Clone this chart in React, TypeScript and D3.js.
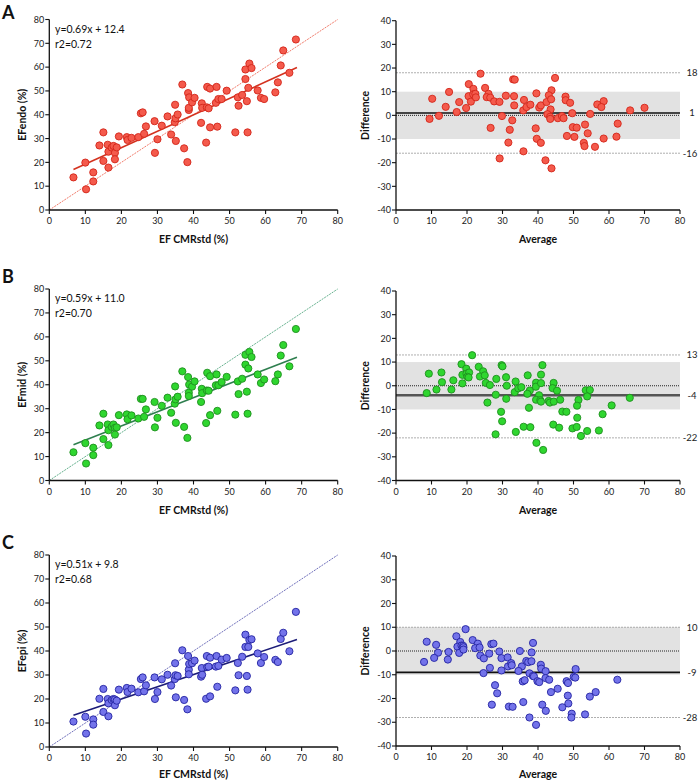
import React from "react";
import * as d3 from "d3";

// EF CMRstd (%) — shared x for all panels
const efStd = [6.7,10,10.2,12.2,12.2,13.9,15,15,16.2,16.4,16.4,17.3,17.8,18.2,18.2,18.7,19.3,21.5,21.7,22.8,24.7,25.4,25.9,26.3,26.8,29.2,29.3,30,31.2,32.8,33.8,34.8,34.9,35,35.1,35.6,36.9,37.4,38.3,38.5,38.7,38.7,38.8,39.6,40.3,42.1,42.3,42.4,43.5,43.7,43.8,44.2,44.6,44.6,46.2,46.4,46.6,46.9,47.8,49.2,51.6,52.3,52.5,53.5,54.4,54.4,54.8,55,55.2,55.5,56.1,57.8,58.7,59.6,62.7,63.4,64.2,64.9,66.6,68.4];
const efEndo = [13.7,19.9,8.7,15.8,12,27.1,32.6,20.6,27.4,24.5,17.8,26.2,26.9,24,21.3,26.3,30.9,30.6,29.4,30.3,30.6,40.6,41,32,35.1,37.3,24,29.7,35.4,39.3,31.7,36.9,44.2,38.5,29,40.1,52.7,25.9,20.1,49.1,42,42.9,47.3,45.2,47.1,36.6,44.8,42.9,28.3,43.1,51.7,42.7,51,34.7,45,51.7,35,46.6,46.6,50.1,32.6,47.3,43.8,48.3,55,59,45.7,32.6,51.3,61.5,59.6,50.2,47.1,46.6,49.4,53.6,60.7,67,57.6,71.6];
const efMid = [11.8,15.6,7.1,13.7,10.6,23,27.9,17.3,23.4,21,14.8,22.4,23.4,22,19.2,22.2,27.3,27.6,25.6,27.2,25.9,34.1,34.1,26.6,29.7,32.8,22.2,26.2,31.2,34.6,28.3,32.1,39.3,33.9,24.1,35,45.6,22.4,17.8,43.2,36.7,35.3,40.1,39.2,41.4,32.8,38.3,36.5,24,37.6,45,37.5,43.6,27.3,39.8,44.3,29.1,39.8,41.1,43.3,27.5,41.4,36.1,42.5,52.5,48.4,37.1,27.9,46.8,53.7,51.6,44.3,40.7,42.2,41.5,44.3,52.2,56.6,47.7,63.3];
const efEpi = [10.6,12.6,5.6,11.5,9.3,20.1,24.2,14.6,20,18.2,12.8,19.6,20,19.8,17.4,19.3,23.9,24.6,22.9,24.3,22.8,28.3,29,23.2,25.7,29,20,22.9,28.2,30.1,25.6,28.3,34.9,29.9,20.7,29.6,40.3,19.6,15.7,37.9,32.2,30.3,34.6,34.9,36,29.3,32.9,30.1,20.1,37.9,33.3,33.5,37.2,21.1,33.5,37.9,25.1,33.8,36.4,37.1,23.6,35,29.9,37.6,46.8,41.7,29.6,23.9,41.7,44.6,44.9,39,35,37.5,36.3,35.4,45,47.6,39.9,56.3];

const panelLetters = ["A", "B", "C"];
const yTitles = ["EFendo (%)", "EFmid (%)", "EFepi (%)"];
const slopes = [0.69, 0.59, 0.51];
const intercepts = [12.4, 11.0, 9.8];
const r2s = ["0.72", "0.70", "0.68"];
const eqLabels = ["y=0.69x + 12.4", "y=0.59x + 11.0", "y=0.51x + 9.8"];
const biases = [1, -4, -9];
const upperLoA = [18, 13, 10];
const lowerLoA = [-16, -22, -28];
const scatterTicks = [0, 10, 20, 30, 40, 50, 60, 70, 80];
const diffTicks = [-40, -30, -20, -10, 0, 10, 20, 30, 40];

const series = [efEndo, efMid, efEpi];
const fills = ["#f45a4c", "#2fd62f", "#7373ea"];
const strokes = ["#d2261a", "#1f8f1f", "#2424a2"];
const regColors = ["#d4321f", "#2f7f4f", "#1c1c78"];
const idColors = ["#ec5a46", "#3c9c70", "#4a4aa8"];
const biasColors = ["#111", "#555", "#111"];
const biasWidths = [1.6, 2.4, 1.6];

const rows = [
  { top: 19.5, bottom: 210, xTitleY: 243, letterY: 19, rTop: 20.7, rBottom: 210 },
  { top: 289, bottom: 480.5, xTitleY: 514, letterY: 283, rTop: 291, rBottom: 480.5 },
  { top: 555, bottom: 747, xTitleY: 778, letterY: 549, rTop: 556, rBottom: 746 },
];

const FONT = "Lato, 'Open Sans', sans-serif";

function ScatterPanel({ i }: { i: number }) {
  const row = rows[i];
  const x = d3.scaleLinear().domain([0, 80]).range([49.3, 337.7]);
  const y = d3.scaleLinear().domain([0, 80]).range([row.bottom, row.top]);
  const ys = series[i];
  const xmin = d3.min(efStd) as number;
  const xmax = 68.7;
  const line = d3.line<number>().x((d) => x(d)).y((d) => y(slopes[i] * d + intercepts[i]));
  const midY = (row.top + row.bottom) / 2;
  return (
    <g>
      <text x={2} y={row.letterY} fontFamily={FONT} fontWeight="bold" fontSize={18} fill="#111">{panelLetters[i]}</text>
      <line x1={x(0)} y1={y(0)} x2={x(80)} y2={y(80)} stroke={idColors[i]} strokeWidth={0.8} strokeDasharray="2,1" />
      <path d={line([xmin, xmax]) || ""} stroke={regColors[i]} strokeWidth={1.6} fill="none" />
      {efStd.map((xv, k) => (
        <circle key={k} cx={x(xv)} cy={y(ys[k])} r={3.6} fill={fills[i]} stroke={strokes[i]} strokeWidth={0.9} />
      ))}
      <line x1={x(0)} y1={row.top} x2={x(0)} y2={row.bottom} stroke="#111" strokeWidth={1.3} />
      <line x1={x(0)} y1={row.bottom} x2={x(80)} y2={row.bottom} stroke="#111" strokeWidth={1.3} />
      {scatterTicks.map((t) => (
        <g key={"y" + t}>
          <line x1={x(0) - 4} x2={x(0)} y1={y(t)} y2={y(t)} stroke="#111" strokeWidth={1.1} />
          <text x={x(0) - 5} y={y(t) + 3.2} textAnchor="end" fontFamily={FONT} fontSize={9} fill="#222">{t}</text>
        </g>
      ))}
      {scatterTicks.map((t) => (
        <g key={"x" + t}>
          <line x1={x(t)} x2={x(t)} y1={row.bottom} y2={row.bottom + 4} stroke="#111" strokeWidth={1.1} />
          <text x={x(t)} y={row.bottom + 14} textAnchor="middle" fontFamily={FONT} fontSize={9} fill="#222">{t}</text>
        </g>
      ))}
      <text x={55} y={row.top + 13} fontFamily={FONT} fontSize={10.5} fill="#111">{eqLabels[i]}</text>
      <text x={55} y={row.top + 28} fontFamily={FONT} fontSize={10.5} fill="#111">{"r2=" + r2s[i]}</text>
      <text x={(x(0) + x(80)) / 2} y={row.xTitleY} textAnchor="middle" fontFamily={FONT} fontWeight="bold" fontSize={10.5} fill="#111">EF CMRstd (%)</text>
      <text transform={`translate(26,${midY}) rotate(-90)`} textAnchor="middle" fontFamily={FONT} fontWeight="bold" fontSize={10.5} fill="#111">{yTitles[i]}</text>
    </g>
  );
}

function BAPanel({ i }: { i: number }) {
  const row = rows[i];
  const x = d3.scaleLinear().domain([0, 80]).range([396, 680]);
  const y = d3.scaleLinear().domain([-40, 40]).range([row.rBottom, row.rTop]);
  const ys = series[i];
  const pts = efStd.map((xv, k) => ({ avg: (xv + ys[k]) / 2, diff: ys[k] - xv }));
  const midY = (row.rTop + row.rBottom) / 2;
  return (
    <g>
      <rect x={x(0)} y={y(10)} width={x(80) - x(0)} height={y(-10) - y(10)} fill="#e2e2e2" />
      <line x1={x(0)} x2={x(80)} y1={y(upperLoA[i])} y2={y(upperLoA[i])} stroke="#9a9a9a" strokeWidth={0.8} strokeDasharray="2,1" />
      <line x1={x(0)} x2={x(80)} y1={y(lowerLoA[i])} y2={y(lowerLoA[i])} stroke="#9a9a9a" strokeWidth={0.8} strokeDasharray="2,1" />
      <line x1={x(0)} x2={x(80)} y1={y(0)} y2={y(0)} stroke="#222" strokeWidth={1} strokeDasharray="1,1" />
      <line x1={x(0)} x2={x(80)} y1={y(biases[i])} y2={y(biases[i])} stroke={biasColors[i]} strokeWidth={biasWidths[i]} />
      {pts.map((p, k) => (
        <circle key={k} cx={x(p.avg)} cy={y(p.diff)} r={3.6} fill={fills[i]} stroke={strokes[i]} strokeWidth={0.9} />
      ))}
      <text x={692} y={y(upperLoA[i]) + 3.5} textAnchor="middle" fontFamily={FONT} fontSize={9.5} fill="#222">{upperLoA[i]}</text>
      <text x={692} y={y(biases[i]) + 3.5} textAnchor="middle" fontFamily={FONT} fontSize={9.5} fill="#222">{biases[i]}</text>
      <text x={690} y={y(lowerLoA[i]) + 3.5} textAnchor="middle" fontFamily={FONT} fontSize={9.5} fill="#222">{lowerLoA[i]}</text>
      <line x1={x(0)} y1={row.rTop} x2={x(0)} y2={row.rBottom} stroke="#111" strokeWidth={1.3} />
      <line x1={x(0)} y1={row.rBottom} x2={x(80)} y2={row.rBottom} stroke="#111" strokeWidth={1.3} />
      {diffTicks.map((t) => (
        <g key={"y" + t}>
          <line x1={x(0) - 4} x2={x(0)} y1={y(t)} y2={y(t)} stroke="#111" strokeWidth={1.1} />
          <text x={x(0) - 5} y={y(t) + 3.2} textAnchor="end" fontFamily={FONT} fontSize={9} fill="#222">{t}</text>
        </g>
      ))}
      {scatterTicks.map((t) => (
        <g key={"x" + t}>
          <line x1={x(t)} x2={x(t)} y1={row.rBottom} y2={row.rBottom + 4} stroke="#111" strokeWidth={1.1} />
          <text x={x(t)} y={row.rBottom + 14} textAnchor="middle" fontFamily={FONT} fontSize={9} fill="#222">{t}</text>
        </g>
      ))}
      <text x={(x(0) + x(80)) / 2} y={row.xTitleY} textAnchor="middle" fontFamily={FONT} fontWeight="bold" fontSize={10.5} fill="#111">Average</text>
      <text transform={`translate(369,${midY}) rotate(-90)`} textAnchor="middle" fontFamily={FONT} fontWeight="bold" fontSize={10.5} fill="#111">Difference</text>
    </g>
  );
}

export default function App() {
  return (
    <svg width={700} height={783} style={{ position: "absolute", left: 0, top: 0, background: "#fff" }}>
      <rect width={700} height={783} fill="#fff" />
      {[0, 1, 2].map((i) => (
        <g key={i}>
          <ScatterPanel i={i} />
          <BAPanel i={i} />
        </g>
      ))}
    </svg>
  );
}
